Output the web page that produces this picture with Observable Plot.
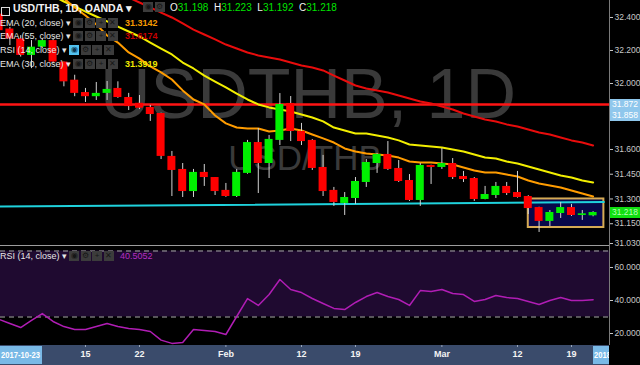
<!DOCTYPE html>
<html><head><meta charset="utf-8">
<script src="https://cdn.jsdelivr.net/npm/d3@7"></script>
<script src="https://cdn.jsdelivr.net/npm/@observablehq/plot@0.6"></script>
<style>
html,body{margin:0;padding:0;background:#000;}
#wrap{position:relative;width:640px;height:365px;overflow:hidden;background:#000;font-family:"Liberation Sans",Arial,sans-serif;}
#wrap svg{position:absolute;left:0;overflow:visible;}
.ov{position:absolute;white-space:nowrap;line-height:1;}
.icr{position:absolute;height:10px;line-height:10px;font-size:0;white-space:nowrap;}
.ic{display:inline-block;width:10px;height:10px;background:#3c3c3c;color:#161616;font-size:8px;text-align:center;line-height:10px;margin-right:1.5px;vertical-align:top;overflow:hidden;}
.lg{font-size:9px;color:#e6e6e6;}
.pbox{position:absolute;left:610px;width:30px;height:11px;font-size:8.5px;line-height:11px;padding-left:2px;box-sizing:border-box;}
.nar{display:inline-block;transform:scaleX(0.8);transform-origin:left center;}
</style></head><body><div id="wrap"></div>
<script>
// ---------- data ----------
const dates = ["2018-01-03","2018-01-04","2018-01-05","2018-01-08","2018-01-09","2018-01-10","2018-01-11","2018-01-12",
"2018-01-15","2018-01-16","2018-01-17","2018-01-18","2018-01-19","2018-01-22","2018-01-23","2018-01-24","2018-01-25","2018-01-26",
"2018-01-29","2018-01-30","2018-01-31","2018-02-01","2018-02-02","2018-02-05","2018-02-06","2018-02-07","2018-02-08","2018-02-09",
"2018-02-12","2018-02-13","2018-02-14","2018-02-15","2018-02-16","2018-02-19","2018-02-20","2018-02-21","2018-02-22","2018-02-23",
"2018-02-26","2018-02-27","2018-02-28","2018-03-01","2018-03-02","2018-03-05","2018-03-06","2018-03-07","2018-03-08","2018-03-09",
"2018-03-12","2018-03-13","2018-03-14","2018-03-15","2018-03-16","2018-03-19","2018-03-20","2018-03-21"];
const open = [32.42,32.33,32.27,32.17,32.22,32.26,32.13,32.02,31.945,31.92,31.94,31.97,31.915,31.88,31.855,31.818,31.558,31.479,31.345,31.461,31.43,31.352,31.315,31.455,31.642,31.515,31.655,31.879,31.709,31.655,31.491,31.352,31.273,31.303,31.40,31.515,31.57,31.485,31.412,31.291,31.503,31.491,31.515,31.436,31.424,31.297,31.321,31.376,31.339,31.315,31.248,31.164,31.212,31.248,31.20,31.198];
const high = [32.45,32.34,32.29,32.26,32.27,32.27,32.13,32.05,31.97,32.006,32.012,32.01,31.94,31.927,31.867,31.82,31.588,31.515,31.479,31.509,31.43,31.394,31.479,31.655,31.727,31.685,31.939,31.921,31.758,31.66,31.564,31.37,31.339,31.43,31.539,31.575,31.648,31.533,31.448,31.515,31.505,31.606,31.545,31.467,31.43,31.376,31.40,31.40,31.467,31.32,31.25,31.23,31.279,31.267,31.23,31.223];
const low = [32.30,32.23,32.16,32.09,32.21,32.12,31.98,31.92,31.885,31.897,31.897,31.91,31.836,31.842,31.77,31.539,31.315,31.309,31.309,31.376,31.321,31.31,31.309,31.45,31.333,31.424,31.624,31.648,31.624,31.473,31.315,31.255,31.20,31.267,31.37,31.455,31.473,31.40,31.285,31.255,31.388,31.479,31.418,31.40,31.285,31.295,31.303,31.321,31.305,31.206,31.097,31.133,31.182,31.194,31.17,31.192];
const close = [32.32,32.27,32.17,32.22,32.26,32.13,32.01,31.94,31.92,31.94,31.964,31.915,31.86,31.85,31.812,31.558,31.473,31.345,31.461,31.43,31.345,31.315,31.461,31.642,31.515,31.661,31.873,31.709,31.648,31.485,31.345,31.279,31.309,31.406,31.521,31.57,31.479,31.406,31.291,31.503,31.491,31.515,31.43,31.418,31.297,31.327,31.376,31.333,31.309,31.242,31.164,31.218,31.248,31.20,31.21,31.218];
const ema20 = [null,null,null,null,null,null,32.515,32.461,32.412,32.358,32.291,32.248,32.188,32.151,32.103,32.067,32.024,31.958,31.903,31.873,31.806,31.758,31.733,31.727,31.727,31.709,31.715,31.727,31.715,31.691,31.667,31.642,31.606,31.588,31.576,31.570,31.564,31.551,31.527,31.521,31.521,31.515,31.509,31.491,31.473,31.461,31.461,31.448,31.436,31.412,31.394,31.382,31.370,31.351,31.333,31.315];
const ema30 = [null,null,null,null,null,32.53,32.497,32.467,32.436,32.406,32.376,32.345,32.315,32.285,32.248,32.212,32.176,32.127,32.091,32.048,32.012,31.976,31.939,31.903,31.873,31.855,31.842,31.830,31.812,31.794,31.770,31.733,31.715,31.697,31.697,31.685,31.673,31.655,31.630,31.624,31.618,31.612,31.600,31.588,31.570,31.551,31.545,31.527,31.515,31.497,31.479,31.461,31.442,31.430,31.412,31.400];
const ema55 = [null,null,null,null,null,null,null,null,null,null,null,null,32.521,32.491,32.461,32.430,32.400,32.364,32.327,32.297,32.267,32.236,32.212,32.188,32.170,32.158,32.145,32.127,32.109,32.097,32.079,32.048,32.018,31.988,31.970,31.958,31.945,31.927,31.909,31.891,31.879,31.861,31.842,31.818,31.800,31.782,31.770,31.752,31.739,31.721,31.703,31.691,31.673,31.655,31.642,31.624];
const rsi = [28.5,26.1,23.6,27.9,32.1,27.3,24.2,22.4,22.4,24.2,26.1,24.2,23.0,22.4,21.2,16.0,14.0,14.5,22.4,21.8,21.2,19.4,30.3,41.2,37.0,43.6,52.7,46.7,44.8,41.2,38.2,35.2,34.5,38.8,42.4,44.8,42.4,40.6,37.0,46.0,45.5,46.7,44.2,43.6,39.4,40.6,43.0,41.8,41.2,39.4,37.6,40.0,41.8,40.0,40.0,40.5052];
const tickDates = ["2018-01-15","2018-01-22","2018-02-01","2018-02-12","2018-02-19","2018-03-01","2018-03-12","2018-03-19"];
const tickLabels = ["15","22","Feb","12","19","Mar","12","19"];
const priceTicks = [32.4, 32.2, 32.0, 31.6, 31.45, 31.3, 31.15, 31.03];
const rsiTicks = [60, 40, 20];
const rsiLevels = [70, 30];
const hLevels = [31.872];
const levelLabels = [31.872, 31.858];
const trendIdx = [0, 56];
const trendPrice = [31.254, 31.281];
const boxIdx = [49, 56];
const boxPrice = [31.127, 31.300];
const emaLast = {ema20: 31.3142, ema55: 31.6174, ema30: 31.3919, rsi: 40.5052};

// ---------- derived tables ----------
const candles = dates.map((d, i) => ({i, o: open[i], h: high[i], l: low[i], c: close[i]}));
const series = arr => arr.map((v, i) => ({i, v}));
const trend = trendIdx.map((x, k) => ({i: x, v: trendPrice[k]}));
const boxes = [{x1: boxIdx[0], x2: boxIdx[1], lo: boxPrice[0], hi: boxPrice[1]}];
const tickIdx = tickDates.map(d => dates.indexOf(d));
const xDomain = [0.13, 56.52];
const font = "Liberation Sans, Arial, sans-serif";

const plotA = Plot.plot({
  width: 640, height: 245, marginLeft: 0, marginRight: 31, marginTop: 0, marginBottom: 0,
  style: {background: "transparent", color: "#c8c8c8", fontSize: "8.5px", fontFamily: font},
  x: {domain: xDomain, axis: null},
  y: {domain: [31.018, 32.503]},
  marks: [
    Plot.text(["USDTHB, 1D"], {text: d => d, frameAnchor: "middle", dx: 3, dy: -27, fontSize: 70, fill: "#3a3a3a", fontFamily: font}),
    Plot.text(["USD/THB"], {text: d => d, frameAnchor: "middle", dy: 36, fontSize: 35, fill: "#3a3a3a", fontFamily: font}),
    Plot.rect(boxes, {x1: "x1", x2: "x2", y1: "lo", y2: "hi", fill: "#08084a", stroke: "#d6ab55", strokeWidth: 2}),
    Plot.ruleY(hLevels, {stroke: "#ff1414", strokeWidth: 2.5}),
    Plot.line(trend, {x: "i", y: "v", stroke: "#1fd2dc", strokeWidth: 2, clip: true}),
    Plot.line(series(ema55), {x: "i", y: "v", stroke: "#e80c0c", strokeWidth: 2, clip: true}),
    Plot.line(series(ema30), {x: "i", y: "v", stroke: "#f2ee00", strokeWidth: 2, clip: true}),
    Plot.line(series(ema20), {x: "i", y: "v", stroke: "#ff9c00", strokeWidth: 2, clip: true}),
    Plot.ruleX(candles, {x: "i", y1: "l", y2: "h", stroke: "#d2d2d2", strokeWidth: 1}),
    Plot.rect(candles, {x1: d => d.i - 0.37, x2: d => d.i + 0.37, y1: "o", y2: "c",
      fill: d => d.c >= d.o ? "#00f000" : "#ff0000"}),
    Plot.axisY({anchor: "right", ticks: priceTicks, tickFormat: d3.format(".3f"), tickSize: 3, tickPadding: 2, label: null})
  ]
});

const plotB = Plot.plot({
  width: 640, height: 120, marginLeft: 0, marginRight: 31, marginTop: 0, marginBottom: 20,
  style: {background: "transparent", color: "#c8c8c8", fontSize: "8.5px", fontFamily: font},
  x: {domain: xDomain},
  y: {domain: [12.73, 73.33]},
  marks: [
    Plot.rect([{lo: rsiLevels[1], hi: rsiLevels[0]}], {x1: () => xDomain[0], x2: () => xDomain[1], y1: "lo", y2: "hi", fill: "#1f0a30"}),
    Plot.ruleY(rsiLevels, {stroke: "#a9a9a9", strokeDasharray: "5,4", strokeWidth: 1}),
    Plot.line(series(rsi), {x: "i", y: "v", stroke: "#b01db4", strokeWidth: 1.5, clip: true}),
    Plot.axisY({anchor: "right", ticks: rsiTicks, tickFormat: d3.format(".4f"), tickSize: 3, tickPadding: 2, label: null}),
    Plot.axisX({ticks: tickIdx, tickFormat: d => tickLabels[tickIdx.indexOf(d)], tickSize: 2, tickPadding: 3,
      fill: "#f4f4f4", stroke: "#9aa6bb", fontWeight: "bold", fontSize: 9, label: null})
  ]
});

// ---------- assemble ----------
const wrap = document.getElementById("wrap");
function addDiv(html, css, cls) {
  const d = document.createElement("div");
  d.className = cls || "ov";
  d.innerHTML = html;
  Object.assign(d.style, css);
  wrap.appendChild(d);
  return d;
}
// x-axis band
addDiv("", {left: "0px", top: "345px", width: "609px", height: "20px", background: "#3a4b6b"});
plotA.style.top = "0px";
plotB.style.top = "245px";
wrap.appendChild(plotB);
wrap.appendChild(plotA);
// panel separator and axis line
addDiv("", {left: "0px", top: "245px", width: "609px", height: "1px", background: "#9c9c9c"});
addDiv("", {left: "609px", top: "0px", width: "1px", height: "345px", background: "#7a7a7a"});

const ya = plotA.scale("y");
const xb = plotB.scale("x");
// price label boxes
let ly = ya.apply(levelLabels[0]) - 5.5;
levelLabels.forEach((v, k) => {
  addDiv(d3.format(".3f")(v), {top: (ly + k * 11.5) + "px", background: "#8fc7ec", color: "#fff"}, "pbox");
});
addDiv(d3.format(".3f")(close[close.length - 1]), {top: (ya.apply(close[close.length - 1]) - 5.5) + "px", background: "#10e010", color: "#b8ffb8"}, "pbox");

// date boxes in band
addDiv('<span class="nar">2017-10-23</span>', {left: "0px", top: "346px", width: "42px", height: "18px", background: "#79b9e6", color: "#fff",
  fontSize: "9.5px", fontWeight: "bold", lineHeight: "18px", paddingLeft: "1px", boxSizing: "border-box", overflow: "hidden"});
const lastX = xb.apply(dates.length - 1);
addDiv('<span class="nar">2018-03-21</span>', {left: lastX + "px", top: "346px", width: (609 - lastX) + "px", height: "18px", background: "#79b9e6", color: "#fff",
  fontSize: "9.5px", fontWeight: "bold", lineHeight: "18px", paddingLeft: "1px", boxSizing: "border-box", overflow: "hidden"});

// header
const icons = (first) => `<span class="ic" style="${first ? 'background:#52c2f0;color:#0d3550;' : ''}">◉</span><span class="ic">⚙</span><span class="ic">+</span><span class="ic">✕</span>`;
addDiv(`<span style="display:inline-block;width:7px;height:7px;border:1px solid #ddd;"></span>`, {left: "1px", top: "3px"});
addDiv("USD/THB, 1D, OANDA ▾", {left: "13px", top: "3px", fontSize: "10.5px", fontWeight: "bold", color: "#f2f2f2"});
addDiv(`<span class="ic">◉</span><span class="ic">⚙</span>`, {left: "143px", top: "2px"}, "icr");
const g = "#00e400";
addDiv(`O<span style="color:${g}">${d3.format(".3f")(open[55])}</span>&nbsp;&nbsp;H<span style="color:${g}">${d3.format(".3f")(high[55])}</span>&nbsp;&nbsp;L<span style="color:${g}">${d3.format(".3f")(low[55])}</span>&nbsp;&nbsp;C<span style="color:${g}">${d3.format(".3f")(close[55])}</span>`,
  {left: "170px", top: "3px", fontSize: "10px", color: "#f2f2f2"});

// indicator legends
const rows = [
  {label: "EMA (20, close)", val: emaLast.ema20, col: "#f59a00", top: 18},
  {label: "EMA (55, close)", val: emaLast.ema55, col: "#c40000", top: 31},
  {label: "RSI (14, close)", val: null, col: null, top: 45, first: true},
  {label: "EMA (30, close)", val: emaLast.ema30, col: "#f0ec00", top: 59}
];
rows.forEach(r => {
  addDiv(r.label + " ▾", {left: "0px", top: (r.top + 1) + "px"}, "ov lg");
  addDiv(icons(r.first), {left: r.first ? "69px" : "73px", top: r.top + "px"}, "icr");
  if (r.val != null) addDiv(d3.format(".4f")(r.val), {left: "125px", top: (r.top + 1) + "px", fontSize: "9px", fontWeight: "bold", color: r.col});
});
// RSI legend
addDiv("RSI (14, close) ▾", {left: "0px", top: "252px"}, "ov lg");
addDiv(icons(false), {left: "69px", top: "251px"}, "icr");
addDiv(d3.format(".4f")(emaLast.rsi), {left: "120px", top: "252px", fontSize: "9px", color: "#b52ec0"});
</script></body></html>
